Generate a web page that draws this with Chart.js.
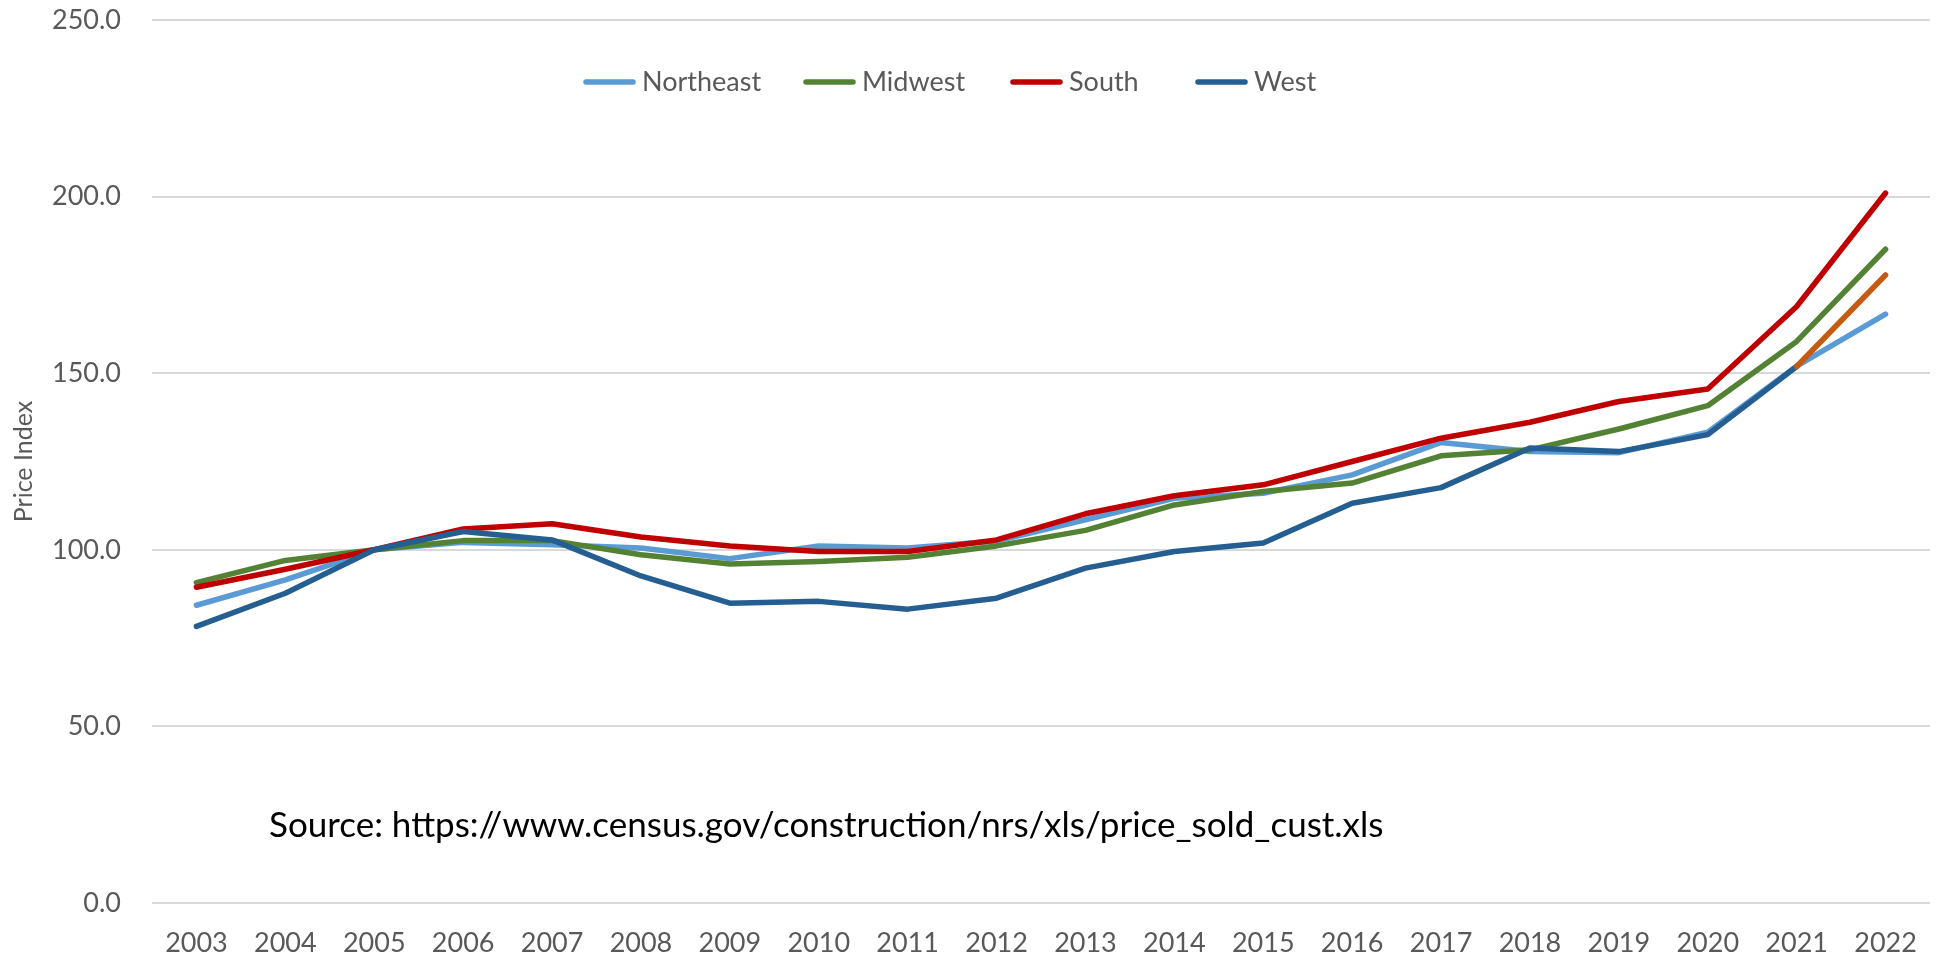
<!DOCTYPE html>
<html>
<head>
<meta charset="utf-8">
<title>Price Index by Region</title>
<script src="https://cdn.jsdelivr.net/npm/chart.js@4.4.1/dist/chart.umd.min.js"></script>
<style>
  html, body { margin: 0; padding: 0; background: #fff; }
  #wrap { width: 1936px; height: 961px; }
</style>
</head>
<body>
<div id="wrap"><canvas id="chart" width="1936" height="961"></canvas></div>
<script>
const years = ["2003", "2004", "2005", "2006", "2007", "2008", "2009", "2010", "2011", "2012",
  "2013", "2014", "2015", "2016", "2017", "2018", "2019", "2020", "2021", "2022"];

const northeast = [84.3, 91.5, 100.0, 102.1, 101.4, 100.5, 97.5, 101.1, 100.5, 102.5,
  108.5, 114.6, 116.0, 121.2, 130.4, 127.8, 127.5, 133.3, 152.0, 166.7];
const midwest = [90.7, 97.0, 100.0, 102.6, 102.6, 98.6, 96.0, 96.7, 97.9, 101.1,
  105.5, 112.7, 116.5, 118.9, 126.6, 128.3, 134.2, 140.8, 159.0, 185.1];
const south = [89.4, 94.5, 100.0, 105.9, 107.4, 103.6, 101.1, 99.5, 99.5, 102.8,
  110.2, 115.3, 118.4, 125.0, 131.6, 136.1, 142.0, 145.5, 168.9, 201.0];
const west = [78.3, 87.7, 100.0, 105.2, 102.8, 92.6, 84.9, 85.4, 83.2, 86.3,
  94.8, 99.5, 101.9, 113.2, 117.6, 128.8, 127.8, 132.6, 151.9, 177.8];

const yMin = 0;
const yMax = 250;
const yStep = 50;
const sourceNote = "Source: https://www.census.gov/construction/nrs/xls/price_sold_cust.xls";

const textGrey = "#595959";
const fontFamily = "Lato, 'Open Sans', sans-serif";

// legend and source line sit inside the plot, so they are drawn here
const legendStarts = [583, 803, 1010, 1195];
const overlayText = {
  id: "overlayText",
  afterDraw(chart) {
    const ctx = chart.ctx;
    ctx.save();
    ctx.font = "27px " + fontFamily;
    ctx.textBaseline = "alphabetic";
    ctx.lineCap = "round";
    const y = 82;
    chart.data.datasets.forEach((ds, i) => {
      const x = legendStarts[i];
      ctx.strokeStyle = ds.borderColor;
      ctx.lineWidth = 5.5;
      ctx.beginPath();
      ctx.moveTo(x + 3, y);
      ctx.lineTo(x + 50, y);
      ctx.stroke();
      ctx.fillStyle = textGrey;
      ctx.fillText(ds.label, x + 59, y + 9);
    });

    ctx.font = "35px " + fontFamily;
    ctx.fillStyle = "#000";
    ctx.fillText(sourceNote, 269, 837);
    ctx.restore();
  },
};

new Chart(document.getElementById("chart"), {
  type: "line",
  data: {
    labels: years,
    datasets: [
      { label: "Northeast", data: northeast, borderColor: "#5B9BD5", order: 3 },
      { label: "Midwest", data: midwest, borderColor: "#548235", order: 2 },
      { label: "South", data: south, borderColor: "#C00000", order: 1 },
      {
        label: "West",
        data: west,
        borderColor: "#255E91",
        order: 0,
        segment: {
          borderColor: (c) => (c.p1DataIndex === years.length - 1 ? "#C55A11" : undefined),
        },
      },
    ],
  },
  options: {
    responsive: false,
    animation: false,
    devicePixelRatio: 1,
    layout: { padding: { top: 20, right: 6, left: 0, bottom: 0 } },
    elements: {
      point: { radius: 0, hoverRadius: 0 },
      line: { borderWidth: 5.5, tension: 0, borderCapStyle: "round", borderJoinStyle: "round", fill: false },
    },
    plugins: {
      legend: { display: false },
      tooltip: { enabled: false },
    },
    scales: {
      x: {
        offset: true,
        grid: { display: false, drawTicks: false },
        border: { display: false },
        ticks: {
          color: textGrey,
          font: { family: fontFamily, size: 27 },
          padding: 24,
          maxRotation: 0,
          autoSkip: false,
        },
        afterFit: (s) => { s.height = 58; s.paddingLeft = 0; s.paddingRight = 0; },
      },
      y: {
        min: yMin,
        max: yMax,
        grid: { color: "#D9D9D9", lineWidth: 2, drawTicks: false },
        border: { display: false },
        ticks: {
          stepSize: yStep,
          color: textGrey,
          font: { family: fontFamily, size: 27 },
          padding: 31,
          callback: (v) => Number(v).toFixed(1),
        },
        title: {
          display: true,
          text: "Price Index",
          color: textGrey,
          font: { family: fontFamily, size: 25 },
          padding: { top: 9, bottom: 0 },
        },
        afterFit: (s) => { s.width = 152; s.paddingTop = 0; s.paddingBottom = 0; },
      },
    },
  },
  plugins: [overlayText],
});
</script>
</body>
</html>
